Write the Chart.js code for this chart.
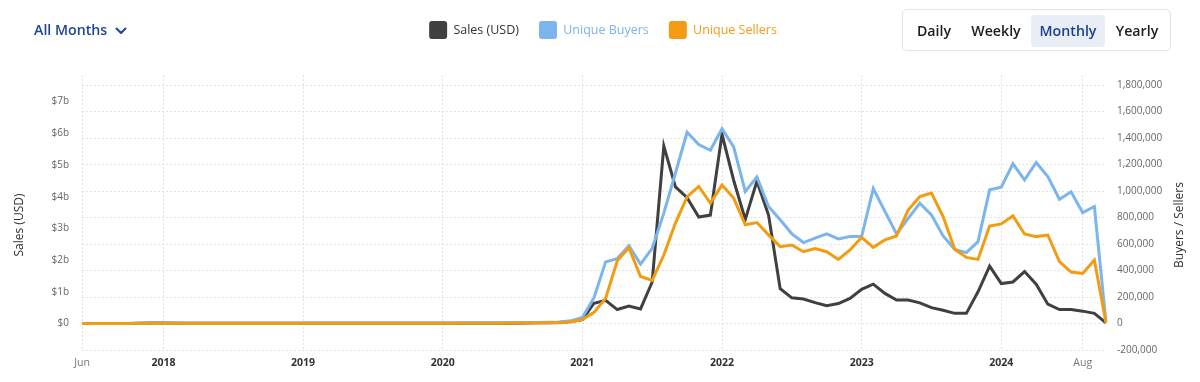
<!DOCTYPE html>
<html>
<head>
<meta charset="utf-8">
<script src="https://cdn.jsdelivr.net/npm/chart.js@4.4.1/dist/chart.umd.min.js"></script>
<style>
  html, body { margin: 0; padding: 0; background: #fff; }
  body { width: 1200px; height: 382px; overflow: hidden; font-family: 'Open Sans', sans-serif; }
  #wrap { position: relative; width: 1200px; height: 382px; }
  #chart { position: absolute; left: 0; top: 0; }
  #months { position: absolute; left: 34px; top: 19px; height: 22px; line-height: 22px; font-size: 14.2px; font-weight: 600; color: #1d4598; white-space: nowrap; }
  #months svg { position: absolute; left: 81px; top: 8px; }
  #periods { position: absolute; left: 902px; top: 9px; width: 267px; height: 40px; border: 1px solid #e3e3e3; border-radius: 5px; box-sizing: content-box; }
  #periods span { position: absolute; top: 5px; height: 32px; line-height: 32px; font-size: 14.2px; font-weight: 600; color: #1c1c1c; white-space: nowrap; text-align: center; }
  #periods span.active { background: #e8edf6; color: #1d3f92; border-radius: 4px; }
</style>
</head>
<body>
<div id="wrap">
  <canvas id="chart" width="1200" height="382"></canvas>
  <div id="months">All Months<svg width="12" height="8" viewBox="0 0 12 8"><polyline points="1.5,1.5 6,6 10.5,1.5" fill="none" stroke="#1d4598" stroke-width="2" stroke-linecap="round" stroke-linejoin="round"/></svg></div>
  <div id="periods">
    <span style="left:8px;width:46px;">Daily</span>
    <span style="left:62px;width:62px;">Weekly</span>
    <span class="active" style="left:128px;width:74px;">Monthly</span>
    <span style="left:208px;width:52px;">Yearly</span>
  </div>
</div>
<script>
// ---------- categories (months) ----------
const months = [
  '2017-06','2017-07','2017-08','2017-09','2017-10','2017-11','2017-12',
  '2018-01','2018-02','2018-03','2018-04','2018-05','2018-06','2018-07','2018-08','2018-09','2018-10','2018-11','2018-12',
  '2019-01','2019-02','2019-03','2019-04','2019-05','2019-06','2019-07','2019-08','2019-09','2019-10','2019-11','2019-12',
  '2020-01','2020-02','2020-03','2020-04','2020-05','2020-06','2020-07','2020-08','2020-09','2020-10','2020-11','2020-12',
  '2021-01','2021-02','2021-03','2021-04','2021-05','2021-06','2021-07','2021-08','2021-09','2021-10','2021-11','2021-12',
  '2022-01','2022-02','2022-03','2022-04','2022-05','2022-06','2022-07','2022-08','2022-09','2022-10','2022-11','2022-12',
  '2023-01','2023-02','2023-03','2023-04','2023-05','2023-06','2023-07','2023-08','2023-09','2023-10','2023-11','2023-12',
  '2024-01','2024-02','2024-03','2024-04','2024-05','2024-06','2024-07','2024-08','2024-09','2024-10'
];

// ---------- series: Sales (USD, billions) ----------
const salesBillions = [
  0.001, 0.001, 0.001, 0.002, 0.002, 0.01, 0.015,
  0.012, 0.008, 0.006, 0.005, 0.005, 0.005, 0.004, 0.004, 0.004, 0.004, 0.004, 0.004,
  0.004, 0.004, 0.005, 0.005, 0.005, 0.006, 0.005, 0.005, 0.005, 0.005, 0.005, 0.005,
  0.006, 0.007, 0.007, 0.007, 0.008, 0.009, 0.01, 0.015, 0.02, 0.025, 0.03, 0.06,
  0.12, 0.64, 0.73, 0.44, 0.55, 0.46, 1.31, 5.6, 4.31, 3.97, 3.36, 3.42,
  5.97, 4.52, 3.28, 4.49, 3.42, 1.1, 0.81, 0.77, 0.66, 0.56, 0.63, 0.79,
  1.08, 1.24, 0.95, 0.74, 0.74, 0.65, 0.50, 0.42, 0.32, 0.32, 1.0, 1.81,
  1.26, 1.31, 1.64, 1.24, 0.61, 0.44, 0.44, 0.39, 0.32, 0.02
];

// ---------- series: Unique Buyers ----------
const uniqueBuyers = [
  300, 400, 500, 600, 800, 2500, 4000,
  3500, 3000, 2800, 2600, 2600, 2500, 2400, 2500, 2600, 2700, 2800, 2800,
  2800, 2900, 3000, 3200, 3400, 3600, 3500, 3400, 3400, 3600, 3800, 4000,
  4200, 4500, 4800, 4800, 5000, 5500, 6000, 7000, 8500, 10000, 12000, 20000,
  45000, 195000, 465000, 490000, 588000, 448000, 568000, 833000, 1136000, 1444000, 1351000, 1308000,
  1470000, 1333000, 997000, 1106000, 883000, 783000, 677000, 611000, 645000, 676000, 638000, 656000,
  656000, 1019000, 846000, 676000, 794000, 908000, 820000, 661000, 560000, 535000, 618000, 1009000,
  1029000, 1206000, 1084000, 1216000, 1110000, 938000, 994000, 837000, 883000, 9000
];

// ---------- series: Unique Sellers ----------
const uniqueSellers = [
  100, 150, 200, 250, 300, 1200, 2000,
  1800, 1500, 1400, 1300, 1300, 1200, 1200, 1200, 1300, 1300, 1400, 1400,
  1400, 1400, 1500, 1600, 1700, 1800, 1700, 1700, 1700, 1800, 1900, 2000,
  2100, 2200, 2400, 2400, 2500, 2700, 3000, 3500, 4200, 5000, 6500, 12000,
  30000, 84000, 190000, 474000, 572000, 355000, 325000, 517000, 758000, 955000, 1035000, 909000,
  1045000, 947000, 745000, 762000, 669000, 580000, 593000, 542000, 565000, 542000, 484000, 555000,
  651000, 575000, 631000, 661000, 857000, 958000, 984000, 807000, 560000, 499000, 484000, 736000,
  752000, 812000, 676000, 656000, 668000, 467000, 388000, 378000, 479000, 6000
];

// ---------- tick labels ----------
const xTickMonths = ['2017-06','2018-01','2019-01','2020-01','2021-01','2022-01','2023-01','2024-01','2024-08'];
const xTickText   = ['Jun','2018','2019','2020','2021','2022','2023','2024','Aug'];
const xTickIsYear = [false, true, true, true, true, true, true, true, false];
const leftTicks    = [0, 1, 2, 3, 4, 5, 6, 7];
const leftTickText = ['$0', '$1b', '$2b', '$3b', '$4b', '$5b', '$6b', '$7b'];
const rightTicks   = [-200000, 0, 200000, 400000, 600000, 800000, 1000000, 1200000, 1400000, 1600000, 1800000];

const seriesNames  = ['Sales (USD)', 'Unique Buyers', 'Unique Sellers'];
const seriesColors = ['#404040', '#7cb5ec', '#f39c12'];
const legendTextColors = ['#333333', '#7cb5ec', '#f39c12'];

Chart.defaults.font.family = "'Open Sans', 'Noto Sans', sans-serif";
Chart.defaults.animation = false;

const GRID = '#e2e2e2';

const legendSpacer = {
  id: 'legendSpacer',
  beforeUpdate(chart) {
    if (chart.legend && !chart.legend._patched) {
      const orig = chart.legend.fit;
      chart.legend.fit = function () { orig.call(this); this.height = 74; };
      chart.legend._patched = true;
    }
  }
};

const axisTitles = {
  id: 'axisTitles',
  afterDraw(chart) {
    const ctx = chart.ctx;
    ctx.save();
    ctx.font = "12px 'Open Sans', 'Noto Sans', sans-serif";
    ctx.fillStyle = '#333333';
    ctx.textAlign = 'center';
    ctx.textBaseline = 'middle';
    [[20, 'Sales (USD)'], [1180, 'Buyers / Sellers']].forEach(([x, t]) => {
      ctx.save();
      ctx.translate(x, 225);
      ctx.rotate(-Math.PI / 2);
      ctx.fillText(t, 0, 0);
      ctx.restore();
    });
    ctx.restore();
  }
};

const tickInfo = (c) => (c.tick ? xTickMonths.indexOf(months[c.tick.value]) : -1);

new Chart(document.getElementById('chart'), {
  type: 'line',
  data: {
    labels: months,
    datasets: [
      { label: seriesNames[0], data: salesBillions, yAxisID: 'yLeft', borderColor: seriesColors[0], backgroundColor: seriesColors[0], order: 2 },
      { label: seriesNames[1], data: uniqueBuyers, yAxisID: 'yRight', borderColor: seriesColors[1], backgroundColor: seriesColors[1], order: 1 },
      { label: seriesNames[2], data: uniqueSellers, yAxisID: 'yRight', borderColor: seriesColors[2], backgroundColor: seriesColors[2], order: 0 }
    ]
  },
  options: {
    responsive: false,
    animation: false,
    layout: { padding: { top: 1, left: 6, right: 0, bottom: 0 } },
    elements: {
      line: { borderWidth: 3, tension: 0, borderJoinStyle: 'miter', borderCapStyle: 'butt' },
      point: { radius: 0, hoverRadius: 0 }
    },
    plugins: {
      tooltip: { enabled: false },
      legend: {
        position: 'top',
        align: 'center',
        labels: {
          boxWidth: 18,
          boxHeight: 18,
          padding: 20,
          useBorderRadius: true,
          borderRadius: 3,
          font: { size: 12.5, weight: 'normal' },
          generateLabels(chart) {
            return chart.data.datasets.map((ds, i) => ({
              text: ds.label,
              fillStyle: seriesColors[i],
              strokeStyle: seriesColors[i],
              lineWidth: 0,
              fontColor: legendTextColors[i],
              hidden: !chart.isDatasetVisible(i),
              datasetIndex: i,
              borderRadius: 3
            }));
          }
        }
      }
    },
    scales: {
      x: {
        type: 'category',
        offset: false,
        afterBuildTicks(scale) {
          scale.ticks = scale.ticks.filter(t => xTickMonths.includes(months[t.value]));
        },
        afterFit(scale) { scale.height = 32; },
        grid: { display: true, color: GRID, lineWidth: 1, drawTicks: false, offset: false },
        border: { display: false, dash: [2, 2] },
        ticks: {
          autoSkip: false,
          maxRotation: 0,
          padding: 7,
          callback(value) { return xTickText[xTickMonths.indexOf(months[value])]; },
          font(c) { const i = tickInfo(c); return { size: 10.5, weight: (i >= 0 && xTickIsYear[i]) ? 'bold' : 'normal' }; },
          color(c) { const i = tickInfo(c); return (i >= 0 && xTickIsYear[i]) ? '#333333' : '#777777'; }
        }
      },
      yLeft: {
        type: 'linear',
        position: 'left',
        min: -0.836,
        max: 7.84,
        afterBuildTicks(scale) { scale.ticks = leftTicks.map(v => ({ value: v })); },
        afterFit(scale) { scale.width = 76; },
        grid: { display: false, drawTicks: false },
        border: { display: false },
        ticks: {
          padding: 13,
          font: { size: 10 },
          color: '#666666',
          callback(v) { return leftTickText[leftTicks.indexOf(v)]; }
        }
      },
      yRight: {
        type: 'linear',
        position: 'right',
        min: -200000,
        max: 1876000,
        afterBuildTicks(scale) { scale.ticks = rightTicks.map(v => ({ value: v })); },
        afterFit(scale) { scale.width = 94; },
        grid: { display: true, color: GRID, lineWidth: 1, drawTicks: false },
        border: { display: false, dash: [2, 2] },
        ticks: {
          padding: 11,
          font: { size: 10 },
          color: '#666666',
          callback(v) { return v.toLocaleString('en-US'); }
        }
      }
    }
  },
  plugins: [legendSpacer, axisTitles]
});
</script>
</body>
</html>
